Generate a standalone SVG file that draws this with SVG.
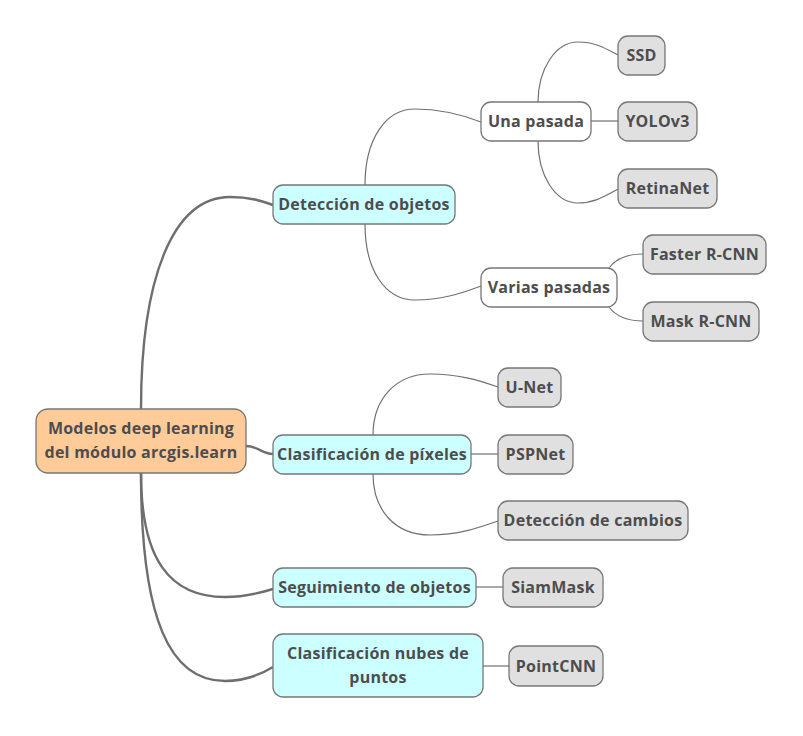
<svg xmlns="http://www.w3.org/2000/svg" width="803" height="736" viewBox="0 0 803 736">
<style>
.t{font-family:"Open Sans","Noto Sans","DejaVu Sans",sans-serif;font-weight:bold;font-size:16px;letter-spacing:0.25px;fill:#4d4d4d;text-anchor:middle;dominant-baseline:central}
.box{stroke:#777;stroke-width:1.3}
.root{fill:#ffcc99}
.l1{fill:#ccffff}
.l2{fill:#ffffff}
.l3{fill:#e0e0e0}
.c1{fill:none;stroke:#6e6e6e;stroke-width:2.4}
.c2{fill:none;stroke:#707070;stroke-width:1.2}
</style>
<rect width="803" height="736" fill="#ffffff"/>
<g id="connectors">
<path class="c1" d="M141,409 C141,280 172,197 230,197 C250,197 262,201 273,205"/>
<path class="c1" d="M246,446 C258,446 262,454 273,454"/>
<path class="c1" d="M141,473 C141,560 170,597 225,597 C245,597 260,593 273,589"/>
<path class="c1" d="M141,473 C141,620 170,681 225,681 C245,681 260,675 273,667"/>
<path class="c2" d="M365,185 C365,140 385,109 415,109 C440,109 460,114 481,122"/>
<path class="c2" d="M365,224 C365,270 385,300 415,300 C440,300 460,294 481,286"/>
<path class="c2" d="M538,102 C538,70 555,42 578,42 C595,42 605,48 618,55"/>
<path class="c2" d="M591,121 L618,121"/>
<path class="c2" d="M538,141 C538,175 555,203 578,203 C595,203 605,196 618,189"/>
<path class="c2" d="M609,268 C615,260 625,254 643,254"/>
<path class="c2" d="M609,307 C615,315 625,321 643,321"/>
<path class="c2" d="M373,435 C373,400 395,374 430,374 C458,374 478,380 498,387"/>
<path class="c2" d="M471,454 L498,454"/>
<path class="c2" d="M373,474 C373,510 395,535 430,535 C458,535 478,528 498,521"/>
<path class="c2" d="M476,587 L503,587"/>
<path class="c2" d="M483,666 L509,666"/>
</g>
<g id="root"><rect class="box root" x="36" y="409" width="210" height="64" rx="12"/><text class="t" x="141" y="428">Modelos deep learning</text><text class="t" x="141" y="452">del módulo arcgis.learn</text></g>
<g id="deteccion"><rect class="box l1" x="273" y="185" width="182" height="39" rx="10"/><text class="t" x="364" y="204">Detección de objetos</text></g>
<g id="clasificacion"><rect class="box l1" x="273" y="435" width="198" height="39" rx="10"/><text class="t" x="372" y="454">Clasificación de píxeles</text></g>
<g id="seguimiento"><rect class="box l1" x="273" y="568" width="203" height="39" rx="10"/><text class="t" x="374.5" y="587">Seguimiento de objetos</text></g>
<g id="nubes"><rect class="box l1" x="273" y="634" width="210" height="63" rx="10"/><text class="t" x="378" y="653">Clasificación nubes de</text><text class="t" x="378" y="676.5">puntos</text></g>
<g id="una"><rect class="box l2" x="481" y="102" width="110" height="39" rx="10"/><text class="t" x="536" y="121">Una pasada</text></g>
<g id="varias"><rect class="box l2" x="481" y="268" width="136" height="39" rx="10"/><text class="t" x="549" y="287">Varias pasadas</text></g>
<g id="ssd"><rect class="box l3" x="618" y="36" width="47" height="39" rx="10"/><text class="t" x="641.5" y="55">SSD</text></g>
<g id="yolo"><rect class="box l3" x="618" y="102" width="79" height="39" rx="10"/><text class="t" x="657.5" y="121">YOLOv3</text></g>
<g id="retina"><rect class="box l3" x="618" y="169" width="99" height="39" rx="10"/><text class="t" x="667.5" y="188">RetinaNet</text></g>
<g id="faster"><rect class="box l3" x="643" y="235" width="123" height="39" rx="10"/><text class="t" x="704.5" y="254">Faster R-CNN</text></g>
<g id="mask"><rect class="box l3" x="643" y="302" width="116" height="39" rx="10"/><text class="t" x="701" y="321">Mask R-CNN</text></g>
<g id="unet"><rect class="box l3" x="498" y="368" width="63" height="39" rx="10"/><text class="t" x="529.5" y="387">U-Net</text></g>
<g id="pspnet"><rect class="box l3" x="498" y="435" width="75" height="39" rx="10"/><text class="t" x="535.5" y="454">PSPNet</text></g>
<g id="cambios"><rect class="box l3" x="498" y="501" width="190" height="39" rx="10"/><text class="t" x="593" y="520">Detección de cambios</text></g>
<g id="siammask"><rect class="box l3" x="503" y="568" width="100" height="39" rx="10"/><text class="t" x="553" y="587">SiamMask</text></g>
<g id="pointcnn"><rect class="box l3" x="509" y="646" width="94" height="40" rx="10"/><text class="t" x="556" y="665.5">PointCNN</text></g>
</svg>
